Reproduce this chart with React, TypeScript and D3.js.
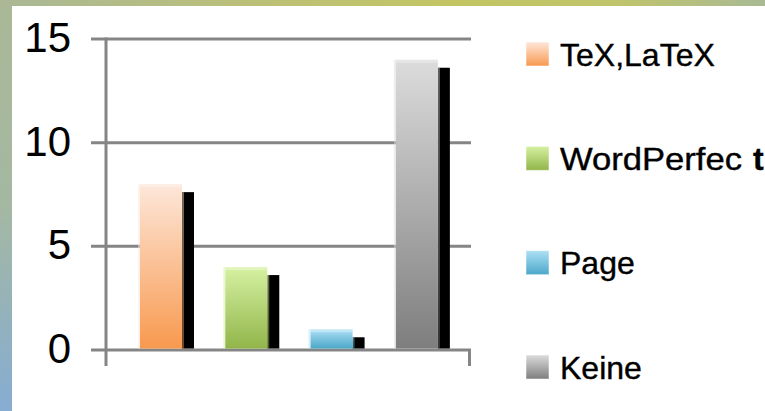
import React from "react";
import * as d3 from "d3";

const categories = ["TeX,LaTeX", "WordPerfect", "Page", "Keine"];
const legendLabels = ["TeX,LaTeX", "WordPerfec t", "Page", "Keine"];
const values = [8, 4, 1, 14];
const yTicks = [0, 5, 10, 15];
const topColors = ["#fde7da", "#d6f1a2", "#ade0f5", "#dcdcdc"];
const bottomColors = ["#f8994f", "#92b54a", "#4ba7c8", "#7e7e7e"];

const W = 765;
const H = 411;

export default function App() {
  const y = d3.scaleLinear().domain([0, 15]).range([350, 39]);
  const x = d3
    .scaleBand<string>()
    .domain(categories)
    .range([140, 140 + 85 * 3.506])
    .paddingInner(0.506)
    .paddingOuter(0);
  const bw = 42;
  const sw = 12;
  const axisColor = "#858585";
  const legendY = d3.scalePoint<string>().domain(categories).range([54, 367]);

  return (
    <svg
      width={W}
      height={H}
      style={{ position: "fixed", left: 0, top: 0, display: "block" }}
      fontFamily="'Liberation Sans', Arial, sans-serif"
    >
      <defs>
        <linearGradient id="topStrip" x1="0" y1="0" x2="1" y2="0">
          <stop offset="0" stopColor="#aab896" />
          <stop offset="0.35" stopColor="#bcc076" />
          <stop offset="0.6" stopColor="#c3c563" />
          <stop offset="0.8" stopColor="#c0c46a" />
          <stop offset="1" stopColor="#a9ba94" />
        </linearGradient>
        <linearGradient id="leftStrip" x1="0" y1="0" x2="0" y2="1">
          <stop offset="0" stopColor="#aab896" />
          <stop offset="0.5" stopColor="#a4b8a2" />
          <stop offset="1" stopColor="#86acd2" />
        </linearGradient>
        {categories.map((c, i) => (
          <linearGradient key={c} id={`g${i}`} x1="0" y1="0" x2="0" y2="1">
            <stop offset="0" stopColor={topColors[i]} />
            <stop offset="1" stopColor={bottomColors[i]} />
          </linearGradient>
        ))}
      </defs>
      <rect x={0} y={0} width={W} height={H} fill="#ffffff" />
      <rect x={0} y={0} width={W} height={6} fill="url(#topStrip)" />
      <rect x={0} y={0} width={12} height={H} fill="url(#leftStrip)" />

      {/* gridlines */}
      {yTicks.map((t) => (
        <line
          key={t}
          x1={91}
          x2={471}
          y1={y(t)}
          y2={y(t)}
          stroke={axisColor}
          strokeWidth={3}
        />
      ))}
      {/* y axis */}
      <line x1={106} x2={106} y1={y(15) - 1.5} y2={366} stroke={axisColor} strokeWidth={3} />
      <line x1={469.5} x2={469.5} y1={y(0)} y2={366} stroke={axisColor} strokeWidth={3} />

      {/* bars */}
      {categories.map((c, i) => {
        const x0 = x(c) as number;
        const top = y(values[i]);
        const base = y(0) - 1.5;
        return (
          <g key={c}>
            <rect x={x0 + bw} y={top + 8} width={sw} height={base - top - 8} fill="#000" />
            <rect x={x0 + bw - 1} y={top + 8} width={3} height={base - top - 8} fill={`url(#g${i})`} opacity={0.45} />
            <rect x={x0 - 2} y={top} width={2} height={base - top} fill={topColors[i]} opacity={0.5} />
            <rect x={x0} y={top} width={bw} height={base - top} fill={`url(#g${i})`} />
            <rect x={x0} y={top} width={bw} height={3} fill="#ffffff" opacity={0.3} />
          </g>
        );
      })}

      {/* y tick labels */}
      {yTicks.map((t) => (
        <text
          key={t}
          x={71}
          y={y(t) - 2}
          dy="0.36em"
          textAnchor="end"
          fontSize={42}
          fill="#000"
        >
          {t}
        </text>
      ))}

      {/* legend */}
      {categories.map((c, i) => {
        const cy = legendY(c) as number;
        const label = legendLabels[i];
        const parts = label.split(" ");
        return (
          <g key={c}>
            <rect
              x={526}
              y={cy - 12}
              width={23}
              height={24}
              fill={`url(#g${i})`}
              stroke="#ffffff"
              strokeOpacity={0.5}
              strokeWidth={1}
            />
            <text
              x={560}
              y={cy + 11.5}
              fontSize={32}
              fill="#000"
              stroke="#000"
              strokeWidth={0.4}
            >
              {parts.length > 1 ? (
                <>
                  <tspan textLength={182} lengthAdjust="spacingAndGlyphs">
                    {parts[0]}
                  </tspan>
                  <tspan x={753} fontWeight="bold">
                    {parts[1]}
                  </tspan>
                </>
              ) : (
                label
              )}
            </text>
          </g>
        );
      })}
    </svg>
  );
}
